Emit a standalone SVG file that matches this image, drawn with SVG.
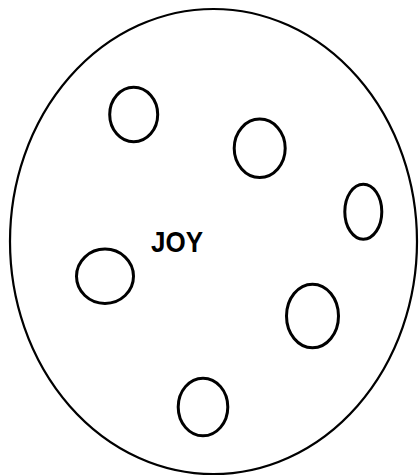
<svg xmlns="http://www.w3.org/2000/svg" width="419" height="476" viewBox="0 0 419 476">
<style>
.big{fill:#fff;stroke:#000;stroke-width:2.2}
.sm{fill:none;stroke:#000;stroke-width:3}
.lbl{font-family:"Liberation Sans",Arial,sans-serif;font-weight:bold;font-size:26px;fill:#000}
</style>
<rect width="419" height="476" fill="#fff"/>
<g id="outer"><ellipse class="big" cx="213.5" cy="241.5" rx="203.5" ry="232.5"/></g>
<g id="c1"><ellipse class="sm" cx="133.7" cy="114.5" rx="24" ry="27.3"/></g>
<g id="c2"><ellipse class="sm" cx="259.7" cy="148.3" rx="25.5" ry="29.2"/></g>
<g id="c3"><ellipse class="sm" cx="363.3" cy="211.7" rx="18.5" ry="27.5"/></g>
<g id="c4"><ellipse class="sm" cx="105" cy="276.3" rx="28.5" ry="27.2"/></g>
<g id="c5"><ellipse class="sm" cx="312.5" cy="316" rx="26" ry="31.8"/></g>
<g id="c6"><ellipse class="sm" cx="203" cy="407" rx="24.8" ry="28.8"/></g>
<g id="label"><text class="lbl" x="151" y="252" transform="translate(151 252) scale(1 1.1) translate(-151 -252)">JOY</text></g>
<g id="connectors"></g>
</svg>
